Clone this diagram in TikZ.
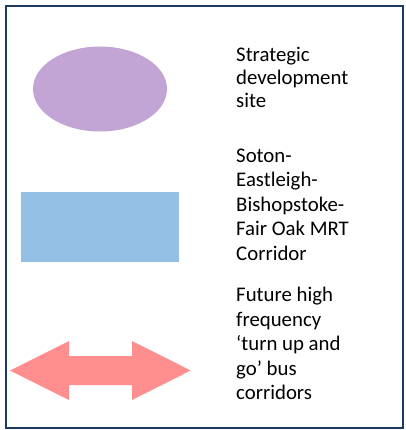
\documentclass[tikz,border=0pt]{standalone}
\usepackage{fontspec}
\setmainfont{Carlito}
\usetikzlibrary{shapes.geometric}
\definecolor{framecol}{RGB}{31,56,100}
\definecolor{sitecol}{RGB}{194,164,213}
\definecolor{mrtcol}{RGB}{147,192,228}
\definecolor{buscol}{RGB}{255,143,143}
\tikzset{
  legendtext/.style={anchor=base west, inner sep=0pt, align=left,
    font=\fontsize{20.8}{24.4}\selectfont, text=black},
}
\begin{document}
\begin{tikzpicture}[x=1pt,y=-1pt]
\useasboundingbox (0,0) rectangle (405,430);
\draw[framecol, line width=2pt] (6,6) rectangle (403,428);
% strategic site ellipse
\node[ellipse, fill=sitecol, minimum width=134pt, minimum height=85pt, inner sep=0pt] (site) at (100,89) {};
\node[legendtext, font=\fontsize{20.8}{23}\selectfont] (sitetxt) at (236,107.5) {Strategic\\development\\site};
% MRT rectangle
\node[rectangle, fill=mrtcol, minimum width=158pt, minimum height=70pt, inner sep=0pt] (mrt) at (100,227) {};
\node[legendtext] (mrttxt) at (236,260) {Soton-\\Eastleigh-\\Bishopstoke-\\Fair Oak MRT\\Corridor};
% bus double arrow
\fill[buscol] (10,370.5) -- (69,341) -- (69,356) -- (132,356) -- (132,341) -- (190.7,370.5)
  -- (132,400) -- (132,385) -- (69,385) -- (69,400) -- cycle;
\node[legendtext] (bustxt) at (236,399.5) {Future high\\frequency\\‘turn up and\\go’ bus\\corridors};
\end{tikzpicture}
\end{document}
